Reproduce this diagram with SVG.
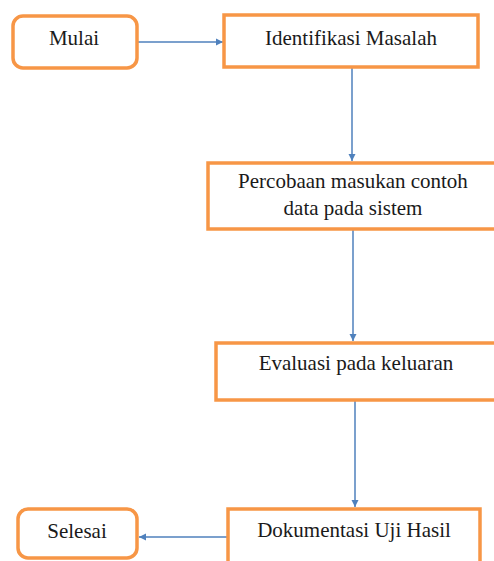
<svg xmlns="http://www.w3.org/2000/svg" width="494" height="561" viewBox="0 0 494 561">
<style>
.box{fill:#fff;stroke:#F79646;stroke-width:3.5}
.lbl{font-size:21px;fill:#1a1a1a;text-anchor:middle}
.con{stroke:#4F81BD;stroke-width:1.5;fill:none;marker-end:url(#ah)}
</style>
<defs>
<marker id="ah" viewBox="0 0 10 10" refX="10" refY="5" markerWidth="7" markerHeight="8" markerUnits="userSpaceOnUse" orient="auto">
<path d="M0,0 L10,5 L0,10 Z" fill="#4F81BD"/>
</marker>
</defs>
<rect width="494" height="561" fill="#fff"/>
<g id="connectors">
<line class="con" x1="137" y1="42" x2="223" y2="42"/>
<line class="con" x1="352" y1="67" x2="352" y2="161"/>
<line class="con" x1="353" y1="230" x2="353" y2="341"/>
<line class="con" x1="355" y1="401" x2="355" y2="507"/>
<line class="con" x1="228" y1="537" x2="139" y2="537"/>
</g>
<g font-family="Liberation Serif, DejaVu Serif, serif">
<g id="mulai">
<rect class="box" x="13" y="16" width="124" height="52" rx="10"/>
<text class="lbl" x="74" y="45" font-family="Liberation Serif, serif">Mulai</text>
</g>
<g id="identifikasi">
<rect class="box" x="224" y="15" width="254" height="52"/>
<text class="lbl" x="351" y="45" font-family="Liberation Serif, serif">Identifikasi Masalah</text>
</g>
<g id="percobaan">
<rect class="box" x="208" y="163" width="300" height="66"/>
<text class="lbl" x="353" y="188" font-family="Liberation Serif, serif">Percobaan masukan contoh</text>
<text class="lbl" x="353" y="215" font-family="Liberation Serif, serif">data pada sistem</text>
</g>
<g id="evaluasi">
<rect class="box" x="216" y="343" width="300" height="57"/>
<text class="lbl" x="356" y="370" font-family="Liberation Serif, serif">Evaluasi pada keluaran</text>
</g>
<g id="dokumentasi">
<rect class="box" x="228" y="509" width="252" height="70"/>
<text class="lbl" x="354" y="537" font-family="Liberation Serif, serif">Dokumentasi Uji Hasil</text>
</g>
<g id="selesai">
<rect class="box" x="18" y="509" width="119" height="49" rx="10"/>
<text class="lbl" x="77" y="538" font-family="Liberation Serif, serif">Selesai</text>
</g>
</g>
</svg>
